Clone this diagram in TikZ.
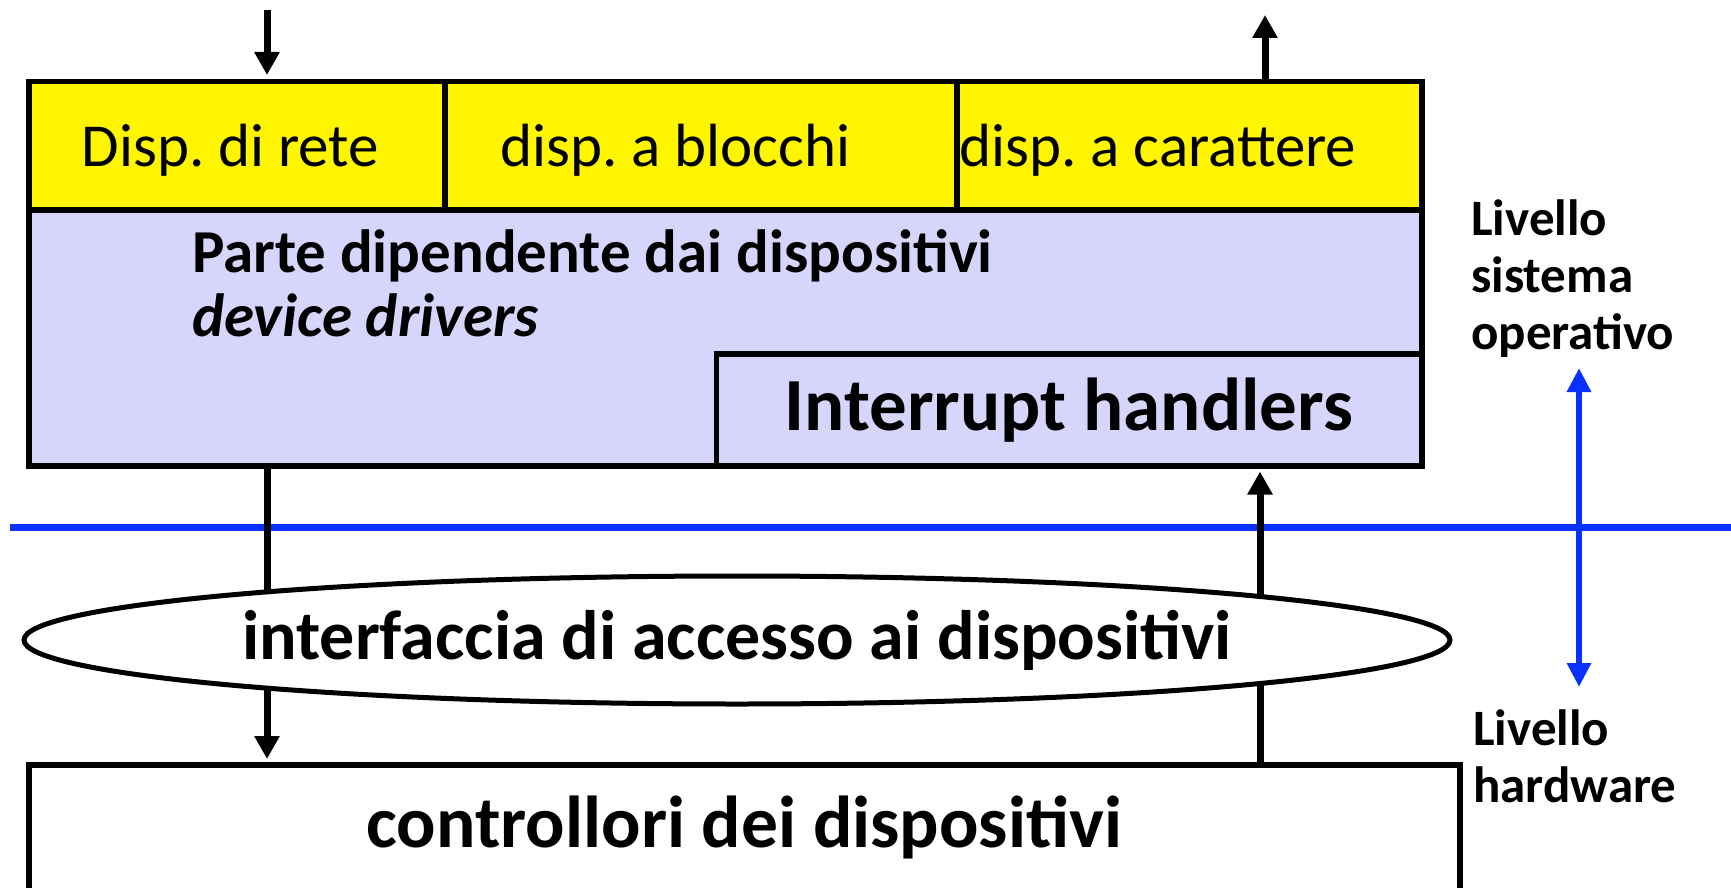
\documentclass[tikz,border=0pt]{standalone}
\usepackage{fontspec}
\setmainfont{Carlito}
\usetikzlibrary{arrows.meta,shapes.geometric}
\frenchspacing
\definecolor{dispyellow}{RGB}{255,245,0}
\definecolor{drvlilac}{RGB}{214,214,252}
\definecolor{levelblue}{RGB}{8,48,255}
\tikzstyle{cellbox} = [draw=black, fill=dispyellow, line width=5.5pt,
    rectangle, inner sep=0pt, minimum height=128pt, anchor=north west,
    text depth=0pt, font=\fontsize{61}{70}\selectfont]
\tikzstyle{layerbox} = [draw=black, line width=5.5pt, rectangle,
    inner sep=0pt, anchor=north west]
\tikzstyle{flow} = [line width=7pt, -{Triangle[length=23pt,width=24pt]}]
\tikzstyle{boundary} = [draw=levelblue, line width=7pt]
\tikzstyle{levelarrow} = [levelblue, line width=6pt,
    {Triangle[length=24pt,width=23pt]}-{Triangle[length=24pt,width=23pt]}]
\tikzstyle{levellabel} = [align=left, anchor=north west, inner sep=0pt,
    font=\bfseries\fontsize{51}{57}\selectfont]

\begin{document}
\begin{tikzpicture}[x=1pt, y=-1pt]
    \useasboundingbox (0,0) rectangle (1731,888);
    % device classes
    \node [cellbox, minimum width=416pt] (net) at (26,79) {\makebox[310pt][l]{Disp. di rete}};
    \node [cellbox, minimum width=512pt] (blk) at (442,79) {\makebox[400pt][l]{disp. a blocchi}};
    \node [cellbox, minimum width=465pt] (chr) at (954,79) {\makebox[459pt][l]{disp. a carattere}};
    % drivers
    \node [layerbox, fill=drvlilac, minimum width=1393pt, minimum height=256pt] (drv) at (26,207) {};
    \node [anchor=north west, inner sep=0pt, align=left,
        font=\bfseries\fontsize{61}{64}\selectfont] (drvtext) at (192,229)
        {Parte dipendente dai dispositivi\\ \textit{device drivers}};
    \node [layerbox, fill=drvlilac, minimum width=705.5pt, minimum height=112pt,
        font=\bfseries\fontsize{75}{80}\selectfont] (irq) at (713.5,351) {Interrupt handlers};
    % hardware
    \node [layerbox, fill=white, minimum width=1431pt, minimum height=126pt,
        font=\bfseries\fontsize{73.5}{80}\selectfont] (ctrl) at (26,762) {controllori dei dispositivi};
    \coordinate (bleft) at (10,527);
    \coordinate (bright) at (1731,527);
    \draw [boundary] (bleft) -- (bright);
    \coordinate (inlet) at (267,10);
    \coordinate (outlet) at (1265,15);
    \coordinate (irqline) at (1260,0);
    \draw [flow, shorten >=4pt] (inlet) -- (inlet |- net.north);
    \draw [flow] (outlet |- chr.north) -- (outlet);
    \draw [flow, shorten >=3pt] (inlet |- drv.south) -- (inlet |- ctrl.north);
    \draw [flow, shorten >=3pt] (irqline |- ctrl.north) -- (irqline |- irq.south);
    \node [ellipse, draw=black, fill=white, line width=5pt, minimum width=1426pt,
        minimum height=128pt, inner sep=0pt,
        font=\bfseries\fontsize{70}{75}\selectfont] (iface) at (737,640)
        {interfaccia di accesso ai dispositivi};
    % levels
    \coordinate (ostop) at (1579,368);
    \coordinate (hwbot) at (1579,687);
    \draw [levelarrow] (ostop) -- (hwbot);
    \node [levellabel] (oslevel) at (1471,200) {Livello\\sistema\\operativo};
    \node [levellabel] (hwlevel) at (1473,710) {Livello\\hardware};
\end{tikzpicture}
\end{document}
